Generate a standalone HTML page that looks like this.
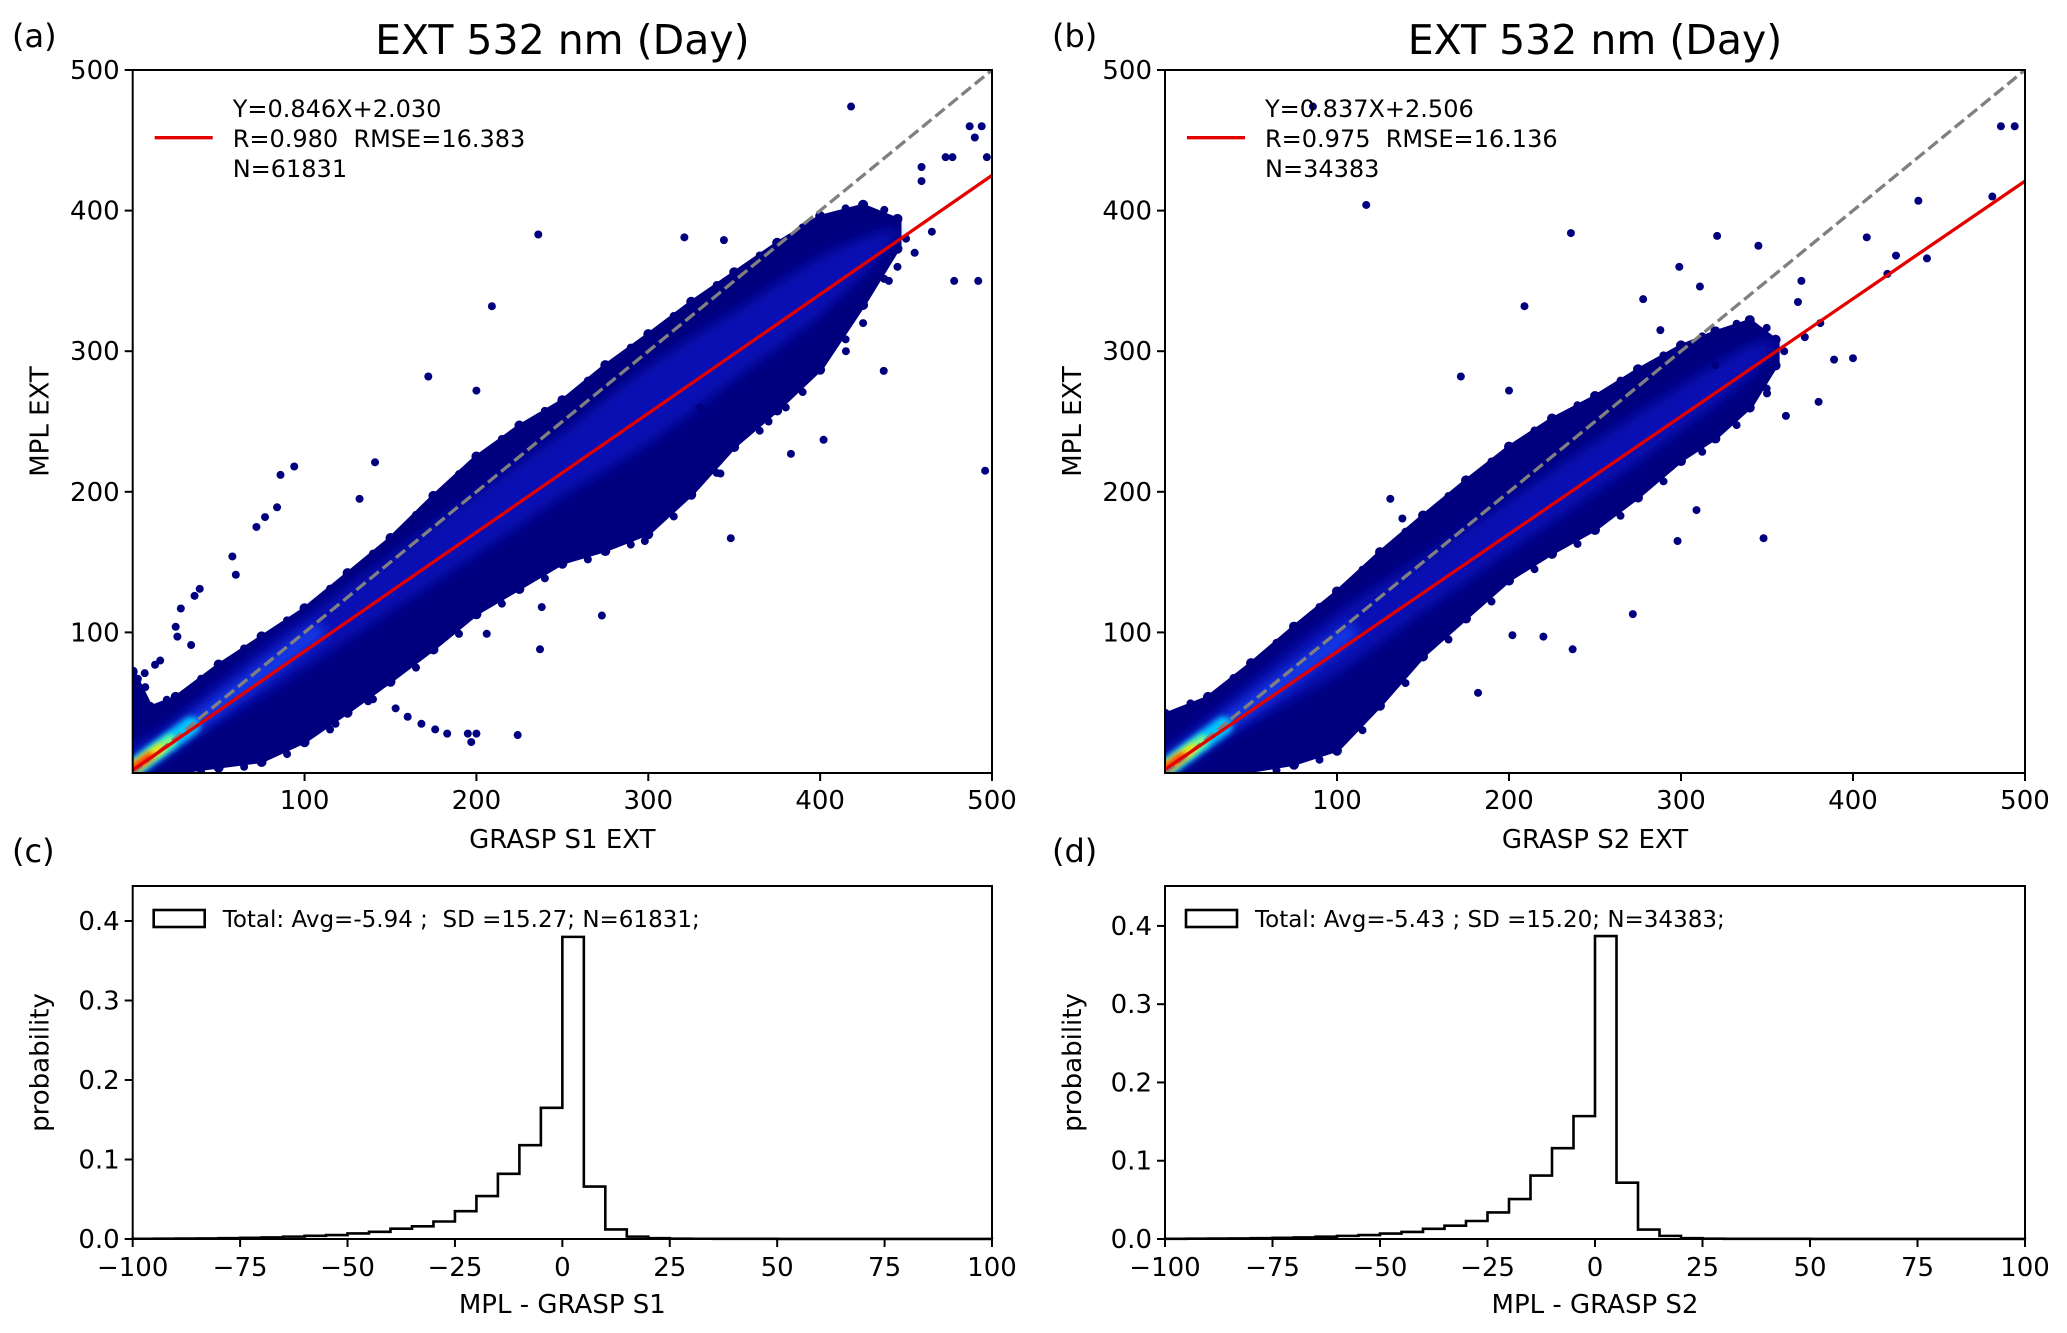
<!DOCTYPE html>
<html><head><meta charset="utf-8">
<style>
html,body{margin:0;padding:0;background:#fff;}
svg{display:block;font-family:"DejaVu Sans","Liberation Sans",sans-serif;}
text{white-space:pre;}
</style></head>
<body>
<svg id="fig" width="2067" height="1333" viewBox="0 0 2067 1333" xmlns="http://www.w3.org/2000/svg" xml:space="preserve">
<defs>
<filter id="blur6" x="-50%" y="-50%" width="200%" height="200%"><feGaussianBlur stdDeviation="6"/></filter>
<filter id="blur3" x="-50%" y="-50%" width="200%" height="200%"><feGaussianBlur stdDeviation="3"/></filter>
<clipPath id="clipA"><rect x="132.7" y="70" width="859.3" height="703"/></clipPath>
<clipPath id="clipB"><rect x="1165" y="70" width="860" height="703"/></clipPath>
</defs>
</svg>
<script>
// ---------- data ----------
const scatterTicks = [100, 200, 300, 400, 500];
const scatterYTicks = [100, 200, 300, 400, 500];
const histXTicks = [-100, -75, -50, -25, 0, 25, 50, 75, 100];
const histXTickLabels = ['\u2212100','\u221275','\u221250','\u221225','0','25','50','75','100'];
const histYTicks = [0.0, 0.1, 0.2, 0.3, 0.4];
const histYTickLabels = ['0.0','0.1','0.2','0.3','0.4'];
const fitA = [0.846, 2.030];
const fitB = [0.837, 2.506];
const legendA = ['Y=0.846X+2.030', 'R=0.980  RMSE=16.383', 'N=61831'];
const legendB = ['Y=0.837X+2.506', 'R=0.975  RMSE=16.136', 'N=34383'];
// envelope of dense cloud: x, lower y, upper y
const envXA = [0, 10, 25, 50, 75, 100, 125, 150, 175, 200, 225, 250, 275, 300, 325, 350, 375, 400, 425, 445];
const envLoA = [0, 0, 2, 6, 10, 24, 45, 67, 90, 115, 133, 151, 160, 172, 200, 234, 260, 289, 335, 375];
const envHiA = [70, 45, 52, 75, 95, 115, 140, 165, 195, 223, 245, 263, 288, 310, 333, 354, 375, 394, 402, 392];
const envXB = [0, 25, 50, 75, 100, 125, 150, 175, 200, 225, 250, 275, 300, 320, 340, 355];
const envLoB = [0, 2, 3, 8, 18, 50, 85, 112, 139, 158, 175, 198, 224, 240, 262, 292];
const envHiB = [40, 52, 76, 102, 127, 155, 181, 206, 230, 250, 266, 285, 302, 312, 320, 306];
const outXA = [418,487,494,490,497,473,477,459,459,236,209,321,344,496,478,492,437,402,348,172,200,94,86,84,77,72,141,132,58,60,36,39,25,28,26,34,206,273,238,237,342,383,298,310,137,153,160,168,176,183,195,200,197,224,118,3,7,13,16,430,445,465,380,395,415,450,455,440,425,410,390,360,370,330];
const outYA = [474,460,460,452,438,438,438,431,421,383,332,381,379,215,350,350,286,237,167,282,272,218,212,189,182,175,221,195,154,141,126,131,104,117,97,91,99,112,118,88,213,227,165,187,51,46,40,35,31,28,28,28,22,27,35,67,71,77,80,345,360,385,260,290,300,380,370,350,320,330,300,280,250,260];
const outXB = [86,117,236,209,321,345,486,494,481,438,443,408,172,200,131,138,298,348,309,272,237,220,202,182,400,389,380,361,381,368,288,299,278,311,420,425,370,360,372,350,330,320];
const outYB = [474,404,384,332,382,375,460,460,410,407,366,381,282,272,195,181,165,167,187,113,88,97,98,57,295,294,264,254,320,335,315,360,337,346,355,368,350,300,310,270,250,290];
const histBinsStart = -100, histBinWidth = 5;
const histC = [0.0003,0.0004,0.0005,0.0008,0.001,0.0015,0.002,0.003,0.004,0.005,0.007,0.009,0.013,0.016,0.022,0.035,0.054,0.082,0.118,0.165,0.380,0.066,0.012,0.003,0.001,0.0004,0.0003,0.0002,0.0002,0.0002,0.0001,0.0001,0.0001,0.0001,0.0001,0.0001,0.0001,0.0001,0.0001,0.0001];
const histD = [0.0003,0.0004,0.0005,0.0008,0.001,0.0015,0.002,0.003,0.004,0.005,0.007,0.009,0.013,0.017,0.023,0.034,0.051,0.081,0.116,0.157,0.387,0.072,0.012,0.004,0.001,0.0004,0.0003,0.0002,0.0002,0.0002,0.0001,0.0001,0.0001,0.0001,0.0001,0.0001,0.0001,0.0001,0.0001,0.0001];

// ---------- helpers ----------
const svg = document.getElementById('fig');
const NS = 'http://www.w3.org/2000/svg';
function mk(tag, attrs, parent, text){
  const e = document.createElementNS(NS, tag);
  for (const k in attrs) e.setAttribute(k, attrs[k]);
  if (text !== undefined) e.textContent = text;
  (parent || svg).appendChild(e);
  return e;
}
const ST=70, SB=773;

function scatterPanel(opt){
  const L=opt.left, R=opt.right, T=ST, B=SB;
  const sx = v => L + (v/500)*(R-L);
  const sy = v => B - (v/500)*(B-T);
  const g = mk('g', {});
  
  
  const cg = mk('g', {'clip-path': 'url(#'+opt.clip+')'}, g);
  let pts = [];
  opt.ex.forEach((x,i)=>pts.push(sx(x)+','+sy(opt.hi[i])));
  for (let i=opt.ex.length-1;i>=0;i--) pts.push(sx(opt.ex[i])+','+sy(opt.lo[i]));
  const env = mk('polygon', {points: pts.join(' '), fill:'#00007f', stroke:'#00007f', 'stroke-width':8, 'stroke-linejoin':'round'}, cg);
  
  
  opt.ex.forEach((x,i)=>{
    [opt.hi[i], opt.lo[i]].forEach((y,k)=>{
      const c = mk('circle', {cx:sx(x), cy:sy(y)+(k? 3:-3), r:5, fill:'#00007f'}, cg);
      
      
    });
    if (i>0){
      const mx=(x+opt.ex[i-1])/2;
      [(opt.hi[i]+opt.hi[i-1])/2, (opt.lo[i]+opt.lo[i-1])/2].forEach((y,k)=>{
        const c = mk('circle', {cx:sx(mx)+4, cy:sy(y)+(k? 5:-5), r:4, fill:'#00007f'}, cg);
        
        
      });
    }
  });
  let ipts = [];
  opt.ex.forEach((x,i)=>{const m=opt.fit[0]*x+opt.fit[1]+6, w=(opt.hi[i]-opt.lo[i])*0.2; ipts.push(sx(x)+','+sy(m+w));});
  for (let i=opt.ex.length-1;i>=0;i--){const x=opt.ex[i]; const m=opt.fit[0]*x+opt.fit[1]+6, w=(opt.hi[i]-opt.lo[i])*0.2; ipts.push(sx(x)+','+sy(m-w));}
  const band = mk('polygon', {points: ipts.join(' '), fill:'#0a18c8', filter:'url(#blur6)', opacity:0.7}, cg);
  
  
  const band2 = mk('line', {x1:sx(0), y1:sy(opt.fit[1]), x2:sx(110), y2:sy(opt.fit[0]*110+opt.fit[1]+8), stroke:'#1a50ff', 'stroke-width':14, filter:'url(#blur6)', opacity:0.8}, cg);
  
  
  const hs = [['#00c8ff',34,18],['#80ff80',22,12],['#ffe000',16,9],['#ff2000',10,7]];
  hs.forEach(h=>{
    const e = mk('line', {x1:sx(0), y1:sy(3), x2:sx(h[1]), y2:sy(h[1]*0.9+3), stroke:h[0], 'stroke-width':h[2], filter:'url(#blur3)', 'stroke-linecap':'round'}, cg);
    
    
  });
  opt.ox.forEach((x,i)=>{
    const c = mk('circle', {cx:sx(x), cy:sy(opt.oy[i]), r:4, fill:'#00007f'}, cg);
    
    
  });
  const one = mk('line', {x1:sx(0), y1:sy(0), x2:sx(500), y2:sy(500), stroke:'#808080', 'stroke-width':3.3, 'stroke-dasharray':'12,5'}, cg);
  
  
  const fl = mk('line', {x1:sx(0), y1:sy(opt.fit[1]), x2:sx(500), y2:sy(opt.fit[0]*500+opt.fit[1]), stroke:'#e50000', 'stroke-width':3.3}, cg);
  
  
  const fr = mk('rect', {x:L, y:T, width:R-L, height:B-T, fill:'none', stroke:'#000', 'stroke-width':2}, g);
  
  
  scatterTicks.forEach(v=>{
    const t = mk('line', {x1:sx(v), y1:B, x2:sx(v), y2:B+8, stroke:'#000', 'stroke-width':2}, g);
    
    
    const lb = mk('text', {x:sx(v), y:B+36, 'font-size':26, 'text-anchor':'middle'}, g, String(v));
    
    
  });
  scatterYTicks.forEach(v=>{
    const t = mk('line', {x1:L-8, y1:sy(v), x2:L, y2:sy(v), stroke:'#000', 'stroke-width':2}, g);
    
    
    const lb = mk('text', {x:L-13, y:sy(v)+9, 'font-size':26, 'text-anchor':'end'}, g, String(v));
    
    
  });
  const tt = mk('text', {x:(L+R)/2, y:54, 'font-size':41, 'text-anchor':'middle'}, g, 'EXT 532 nm (Day)');
  
  
  const pl = mk('text', {x:opt.plx, y:47, 'font-size':32}, g, opt.plabel);
  
  
  const xl = mk('text', {x:(L+R)/2, y:848, 'font-size':26, 'text-anchor':'middle'}, g, opt.xlabel);
  
  
  const yl = mk('text', {x:0, y:0, 'font-size':26, 'text-anchor':'middle', transform:'translate('+(L-84)+','+((T+B)/2)+') rotate(-90)'}, g, 'MPL EXT');
  
  
  const ll = mk('line', {x1:L+22, y1:137.7, x2:L+80, y2:137.7, stroke:'#e50000', 'stroke-width':3.3}, g);
  
  
  opt.legend.forEach((s,i)=>{
    const lt = mk('text', {x:L+100, y:117+i*30, 'font-size':24}, g, s);
    
    
  });
}

function histPanel(opt){
  const L=opt.left, R=opt.right, T=886, B=1239;
  const sx = v => L + (v+100)/200*(R-L);
  const sy = v => B - v/opt.ymax*(B-T);
  const g = mk('g', {});
  
  
  let d = 'M'+sx(histBinsStart)+','+sy(0);
  opt.vals.forEach((v,i)=>{
    const x0 = histBinsStart + i*histBinWidth, x1 = x0 + histBinWidth;
    d += ' L'+sx(x0)+','+sy(v)+' L'+sx(x1)+','+sy(v);
  });
  d += ' L'+sx(100)+','+sy(0);
  const p = mk('path', {d:d, fill:'none', stroke:'#000', 'stroke-width':2.6}, g);
  
  
  const fr = mk('rect', {x:L, y:T, width:R-L, height:B-T, fill:'none', stroke:'#000', 'stroke-width':2}, g);
  
  
  histXTicks.forEach((v,i)=>{
    const t = mk('line', {x1:sx(v), y1:B, x2:sx(v), y2:B+8, stroke:'#000', 'stroke-width':2}, g);
    
    
    const lb = mk('text', {x:sx(v), y:B+37, 'font-size':26, 'text-anchor':'middle'}, g, histXTickLabels[i]);
    
    
  });
  histYTicks.forEach((v,i)=>{
    const t = mk('line', {x1:L-8, y1:sy(v), x2:L, y2:sy(v), stroke:'#000', 'stroke-width':2}, g);
    
    
    const lb = mk('text', {x:L-13, y:sy(v)+9, 'font-size':26, 'text-anchor':'end'}, g, histYTickLabels[i]);
    
    
  });
  const pl = mk('text', {x:opt.plx, y:862, 'font-size':32}, g, opt.plabel);
  
  
  const xl = mk('text', {x:(L+R)/2, y:1313, 'font-size':26, 'text-anchor':'middle'}, g, opt.xlabel);
  
  
  const yl = mk('text', {x:0, y:0, 'font-size':26, 'text-anchor':'middle', transform:'translate('+(L-84)+','+((T+B)/2)+') rotate(-90)'}, g, 'probability');
  
  
  const lb = mk('rect', {x:L+21, y:910, width:51, height:17, fill:'none', stroke:'#000', 'stroke-width':2.6}, g);
  
  
  const lt = mk('text', {x:L+90, y:927, 'font-size':23}, g, opt.legend);
  
  
}

scatterPanel({name:'scatter-panel-a', left:132.7, right:992, clip:'clipA', ex:envXA, lo:envLoA, hi:envHiA, ox:outXA, oy:outYA, fit:fitA, legend:legendA, plabel:'(a)', plx:12, xlabel:'GRASP S1 EXT'});
scatterPanel({name:'scatter-panel-b', left:1165, right:2025, clip:'clipB', ex:envXB, lo:envLoB, hi:envHiB, ox:outXB, oy:outYB, fit:fitB, legend:legendB, plabel:'(b)', plx:1052, xlabel:'GRASP S2 EXT'});
histPanel({name:'histogram-panel-c', left:132.7, right:992, vals:histC, ymax:0.444, plabel:'(c)', plx:12, xlabel:'MPL - GRASP S1', legend:'Total: Avg=-5.94 ;  SD =15.27; N=61831;'});
histPanel({name:'histogram-panel-d', left:1165, right:2025, vals:histD, ymax:0.451, plabel:'(d)', plx:1052, xlabel:'MPL - GRASP S2', legend:'Total: Avg=-5.43 ; SD =15.20; N=34383;'});
</script>
</body></html>
